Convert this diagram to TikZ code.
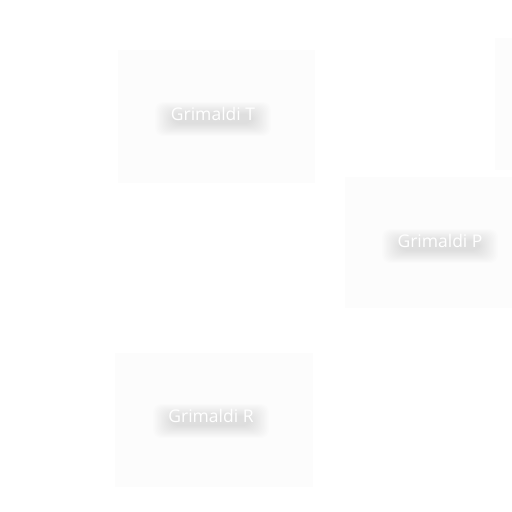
\documentclass[tikz,border=0pt]{standalone}
\usepackage{fontspec}
\setmainfont{Open Sans}
\begin{document}
\begin{tikzpicture}[x=1pt,y=-1pt,
  panel/.style={fill=black!1.1,draw=none},
  lbl/.style={text=white,font=\fontsize{17.5}{20}\selectfont,inner sep=0pt},
  glow/.style={fill=black,opacity=0.008,draw=none}]
\useasboundingbox (0,0) rectangle (512,512);
\fill[white] (0,0) rectangle (512,512);
% faint panels
\fill[panel] (118,50) rectangle (315,183);
\fill[panel] (345,177) rectangle (512,308);
\fill[panel] (115,353) rectangle (313,487);
\fill[panel] (495,38) rectangle (512,170);
% soft shadows behind labels
\foreach \cx/\cy in {213/119, 440/246, 211/421}{
  \foreach \r in {0,1,...,14}{
    \fill[glow,rounded corners=8pt] (\cx-58+\r*1.3,\cy-17+\r*0.85) rectangle (\cx+58-\r*1.3,\cy+17-\r*0.85);
  }
}
\node[lbl] (T) at (213,114) {Grimaldi T};
\node[lbl] (P) at (440,241) {Grimaldi P};
\node[lbl] (R) at (211,416) {Grimaldi R};
\end{tikzpicture}
\end{document}
